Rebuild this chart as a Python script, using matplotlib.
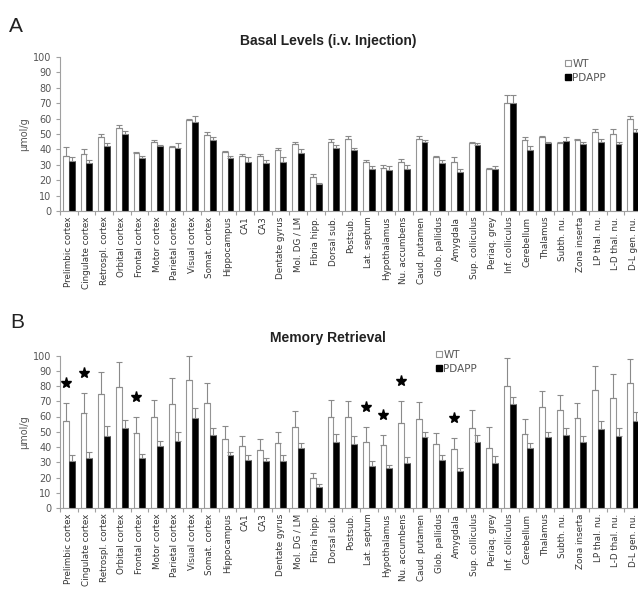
import numpy as np
import matplotlib.pyplot as plt
from matplotlib.patches import Patch

# Brain regions along the x axis
regions = ["Prelimbic cortex", "Cingulate cortex", "Retrospl. cortex", "Orbital cortex",
           "Frontal cortex", "Motor cortex", "Parietal cortex", "Visual cortex",
           "Somat. cortex", "Hippocampus", "CA1", "CA3", "Dentate gyrus", "Mol. DG / LM",
           "Fibria hipp.", "Dorsal sub.", "Postsub.", "Lat. septum", "Hypothalamus",
           "Nu. accumbens", "Caud. putamen", "Glob. pallidus", "Amygdala", "Sup. colliculus",
           "Periaq. grey", "Inf. colliculus", "Cerebellum", "Thalamus", "Subth. nu.",
           "Zona inserta", "LP thal. nu.", "L-D thal. nu.", "D-L gen. nu."]

# Panel A: basal levels (umol/g), mean and SEM
basal_wt = [36, 37, 48, 54, 37.5, 45, 41.5, 59, 49.5, 38, 36, 36, 39.5, 43.5, 22, 45, 47,
            32, 28, 32, 47, 35, 32, 44, 27, 70, 46, 48, 44, 46, 51.5, 50, 60]
basal_wt_err = [5.5, 3, 2, 2, 1, 1, 0.5, 1, 1.5, 1, 1, 1, 1.5, 1.5, 2, 2, 2, 1, 2, 2, 1.5,
                1, 3, 1, 1, 5, 2, 1, 0.5, 1, 1.5, 3, 2]
basal_pdapp = [32.5, 31, 42, 50, 34.5, 42, 41, 58, 46, 34.5, 32, 31, 32, 37.5, 17.5, 41,
               39.5, 27.5, 26.5, 27.5, 45, 31, 25.5, 43, 27, 70, 39.5, 44, 45.5, 43.5, 45,
               43.5, 51.5]
basal_pdapp_err = [2.5, 2, 2, 2, 1.5, 1, 3, 4, 2, 1.5, 3, 2, 3, 2.5, 1, 2, 1.5, 1.5, 2.5,
                   2.5, 1, 2, 1.5, 1, 2, 5, 2.5, 1, 2.5, 1.5, 2, 1.5, 1.5]

# Panel B: memory retrieval (umol/g), mean and SEM
memory_wt = [57, 62, 74.5, 79.5, 49.5, 60, 68, 84, 69, 45, 40.5, 38, 42.5, 53, 19.5, 60, 60,
             43.5, 41, 55.5, 58.5, 42, 38.5, 52.5, 39.5, 80, 48.5, 66, 64, 59, 77.5, 72, 82]
memory_wt_err = [12, 13.5, 14.5, 16, 10.5, 11, 17.5, 16, 13, 9, 7, 7, 7.5, 10.5, 3.5, 11, 10,
                 9.5, 7, 14.5, 11, 7, 7.5, 12, 13.5, 18.5, 10, 11, 10, 10, 15.5, 16, 16]
memory_pdapp = [30.5, 33, 47.5, 52.5, 33, 40.5, 44, 59, 48, 34.5, 31.5, 30.5, 31, 39.5, 14,
                43.5, 42, 27.5, 26, 29.5, 46.5, 31.5, 24.5, 43.5, 29.5, 68.5, 39.5, 46.5, 48,
                43.5, 51.5, 47.5, 57]
memory_pdapp_err = [4.5, 3.5, 6.5, 5.5, 2.5, 3.5, 6, 6.5, 4.5, 2.5, 3.5, 2.5, 3.5, 3, 1.5, 5,
                    5, 3, 2.5, 4, 3.5, 3, 2, 4.5, 4.5, 4.5, 3, 3.5, 4.5, 4, 5.5, 5, 6]

# Regions with a significant WT vs PDAPP difference during retrieval
memory_sig = ["Prelimbic cortex", "Cingulate cortex", "Frontal cortex", "Lat. septum",
              "Hypothalamus", "Nu. accumbens", "Amygdala"]

AXIS_GREY = "#a0a0a0"
TEXT_GREY = "#555555"
W = 0.33

fig = plt.figure(figsize=(6.38, 5.92), dpi=100)
ax_a = fig.add_axes([60 / 638, 1 - 211 / 592, 583 / 638, 154 / 592])
ax_b = fig.add_axes([60 / 638, 1 - 508 / 592, 583 / 638, 152.5 / 592])


def draw_panel(ax, wt, wt_err, pd_, pd_err):
    x = np.arange(len(regions))
    ax.bar(x - W / 2, wt, W, color="white", edgecolor="#959595", linewidth=0.8, zorder=2)
    ax.bar(x + W / 2, pd_, W, color="black", edgecolor="#303030", linewidth=0.5, zorder=2)
    for xs, vals, errs in [(x - W / 2, wt, wt_err), (x + W / 2, pd_, pd_err)]:
        eb = ax.errorbar(xs, vals, yerr=[np.zeros(len(vals)), errs], fmt="none",
                         ecolor="#8a8a8a", elinewidth=0.8, capsize=2, capthick=0.8, zorder=3)
        for art in list(eb.lines[1]) + list(eb.lines[2]):
            art.set_clip_on(False)

    ax.set_xlim(-0.45, len(regions) - 0.45)
    ax.set_ylim(0, 100)
    ax.set_yticks(range(0, 101, 10))
    ax.set_xticks(x)
    ax.set_xticklabels(regions, rotation=90, fontsize=6.3, color="#333333")
    ax.set_xticks(np.arange(len(regions) + 1) - 0.5, minor=True)
    ax.tick_params(axis="x", which="major", length=0, pad=4)
    ax.tick_params(axis="x", which="minor", length=3, color=AXIS_GREY, width=0.8)
    ax.tick_params(axis="y", length=3, color=AXIS_GREY, width=0.8, labelsize=7,
                   labelcolor=TEXT_GREY, pad=3)
    for side in ["top", "right"]:
        ax.spines[side].set_visible(False)
    for side in ["left", "bottom"]:
        ax.spines[side].set_color(AXIS_GREY)
        ax.spines[side].set_linewidth(0.8)
    ax.set_ylabel("µmol/g", fontsize=7, color=TEXT_GREY, labelpad=3)


def add_legend(ax, x0, y0):
    handles = [Patch(facecolor="white", edgecolor="#959595", linewidth=0.8, label="WT"),
               Patch(facecolor="black", edgecolor="black", label="PDAPP")]
    leg = ax.legend(handles=handles, loc="upper left", bbox_to_anchor=(x0, y0),
                    bbox_transform=fig.transFigure, frameon=False, fontsize=7.5,
                    handlelength=0.55, handleheight=0.55, handletextpad=0.15,
                    labelspacing=0.35, borderpad=0, borderaxespad=0)
    for t in leg.get_texts():
        t.set_color(TEXT_GREY)


draw_panel(ax_a, basal_wt, basal_wt_err, basal_pdapp, basal_pdapp_err)
draw_panel(ax_b, memory_wt, memory_wt_err, memory_pdapp, memory_pdapp_err)

# significance stars above the WT error bars
idx = np.array([regions.index(r) for r in memory_sig])
star_y = np.array(memory_wt)[idx] + np.array(memory_wt_err)[idx] + 13
ax_b.plot(idx - W / 2, star_y, ls="none", marker="*", color="black", ms=8, zorder=4)

add_legend(ax_a, 565 / 638, 1 - 59 / 592)
add_legend(ax_b, 436 / 638, 1 - 350 / 592)

fig.text(328 / 638, 1 - 41 / 592, "Basal Levels (i.v. Injection)", ha="center", va="center",
         fontsize=10, fontweight="bold", family="Liberation Sans", color="#222222")
fig.text(328 / 638, 1 - 338 / 592, "Memory Retrieval", ha="center", va="center",
         fontsize=10, fontweight="bold", family="Liberation Sans", color="#222222")
fig.text(9 / 638, 1 - 26 / 592, "A", ha="left", va="center", fontsize=15,
         family="Liberation Sans", color="#222222")
fig.text(10 / 638, 1 - 322 / 592, "B", ha="left", va="center", fontsize=15,
         family="Liberation Sans", color="#222222")

fig.savefig("out.png", dpi=100)
